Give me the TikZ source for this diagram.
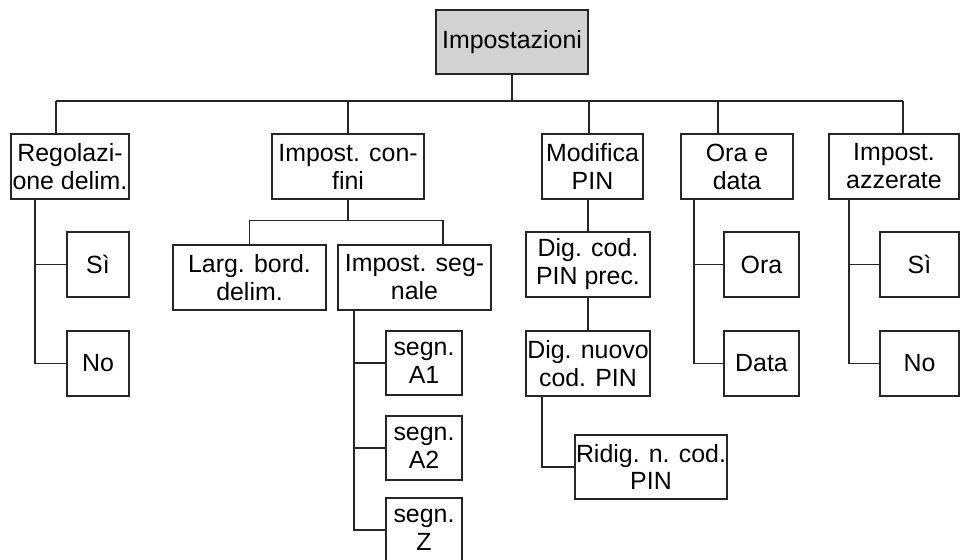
\documentclass[tikz,border=0pt]{standalone}
\usepackage{fontspec}
\setmainfont{Liberation Sans}
\definecolor{rootgray}{RGB}{210,210,210}
\begin{document}
\begin{tikzpicture}[x=1bp,y=-1bp,
    box/.style={draw=black!85,line width=1.2bp,inner sep=0pt,align=center,
      minimum height=65bp},
    link/.style={black!85,line width=1.2bp},
    every node/.style={font=\fontsize{25}{28}\selectfont}]
  \useasboundingbox (0,0) rectangle (960,560);
  % root and the five menus
  \node[box,fill=rootgray,minimum width=152bp,minimum height=64bp] (root) at (512,42) {Impostazioni};
  \node[box,minimum width=118bp] (r1) at (70,166.5) {Regolazi-\\one delim.};
  \node[box,minimum width=152bp] (r2) at (348,166.5) {Impost. con-\\fini};
  \node[box,minimum width=101bp] (r3) at (592.5,166.5) {Modifica\\PIN};
  \node[box,minimum width=112bp] (r4) at (737,166.5) {Ora e\\data};
  \node[box,minimum width=130bp] (r5) at (894,166.5) {Impost.\\azzerate};
  \coordinate (busL) at (56,101);
  \coordinate (busR) at (903,101);
  \draw[link] (root.south) -- (root.south |- busL);
  \draw[link] (busL) -- (busR);
  \foreach \n/\x in {r1/56,r2/348,r3/589,r4/718,r5/903}
    \draw[link] (\x,101) -- (\n.north -| \x,0);
  % two-way choices hanging on the left
  \foreach \p/\x/\cx/\w/\ta/\tb in {r1/35/98/62/Sì/No, r4/694/761.5/75/Ora/Data,
      r5/849/919.5/79/Sì/No}{
    \node[box,minimum width=\w bp] (\p-1) at (\cx,264.5) {\ta};
    \node[box,minimum width=\w bp] (\p-2) at (\cx,363.5) {\tb};
    \draw[link] (\p.south -| \x,0) |- (\p-1.west);
    \draw[link] (\p.south -| \x,0) |- (\p-2.west);
  }
  % confini
  \node[box,minimum width=153bp] (r2a) at (249.5,277.5) {Larg. bord.\\delim.};
  \node[box,minimum width=153bp] (r2b) at (414.5,277.5) {Impost. seg-\\nale};
  \draw[link] (r2.south) -- ++(0,21) coordinate (fork);
  \draw[link] (r2a.north) |- (fork) -| (r2b.north -| 443,0);
  \foreach \n/\y/\t in {1/363/{A1},2/448/{A2},3/530/{Z}}{
    \node[box,minimum width=76bp,minimum height=64bp] (s\n) at (424,\y) {segn.\\\t};
    \draw[link] (r2b.south -| 354,0) |- (s\n.west);
  }
  % PIN
  \node[box,minimum width=124bp] (r3a) at (588,264.5) {Dig. cod.\\PIN prec.};
  \node[box,minimum width=124bp] (r3b) at (588,363.5) {Dig. nuovo\\cod. PIN};
  \node[box,minimum width=152bp,minimum height=64bp] (r3c) at (651,467) {Ridig. n. cod.\\PIN};
  \draw[link] (r3a.north |- r3.south) -- (r3a.north);
  \draw[link] (r3a) -- (r3b);
  \draw[link] (r3b.south -| 542,0) |- (r3c.west);
\end{tikzpicture}
\end{document}
